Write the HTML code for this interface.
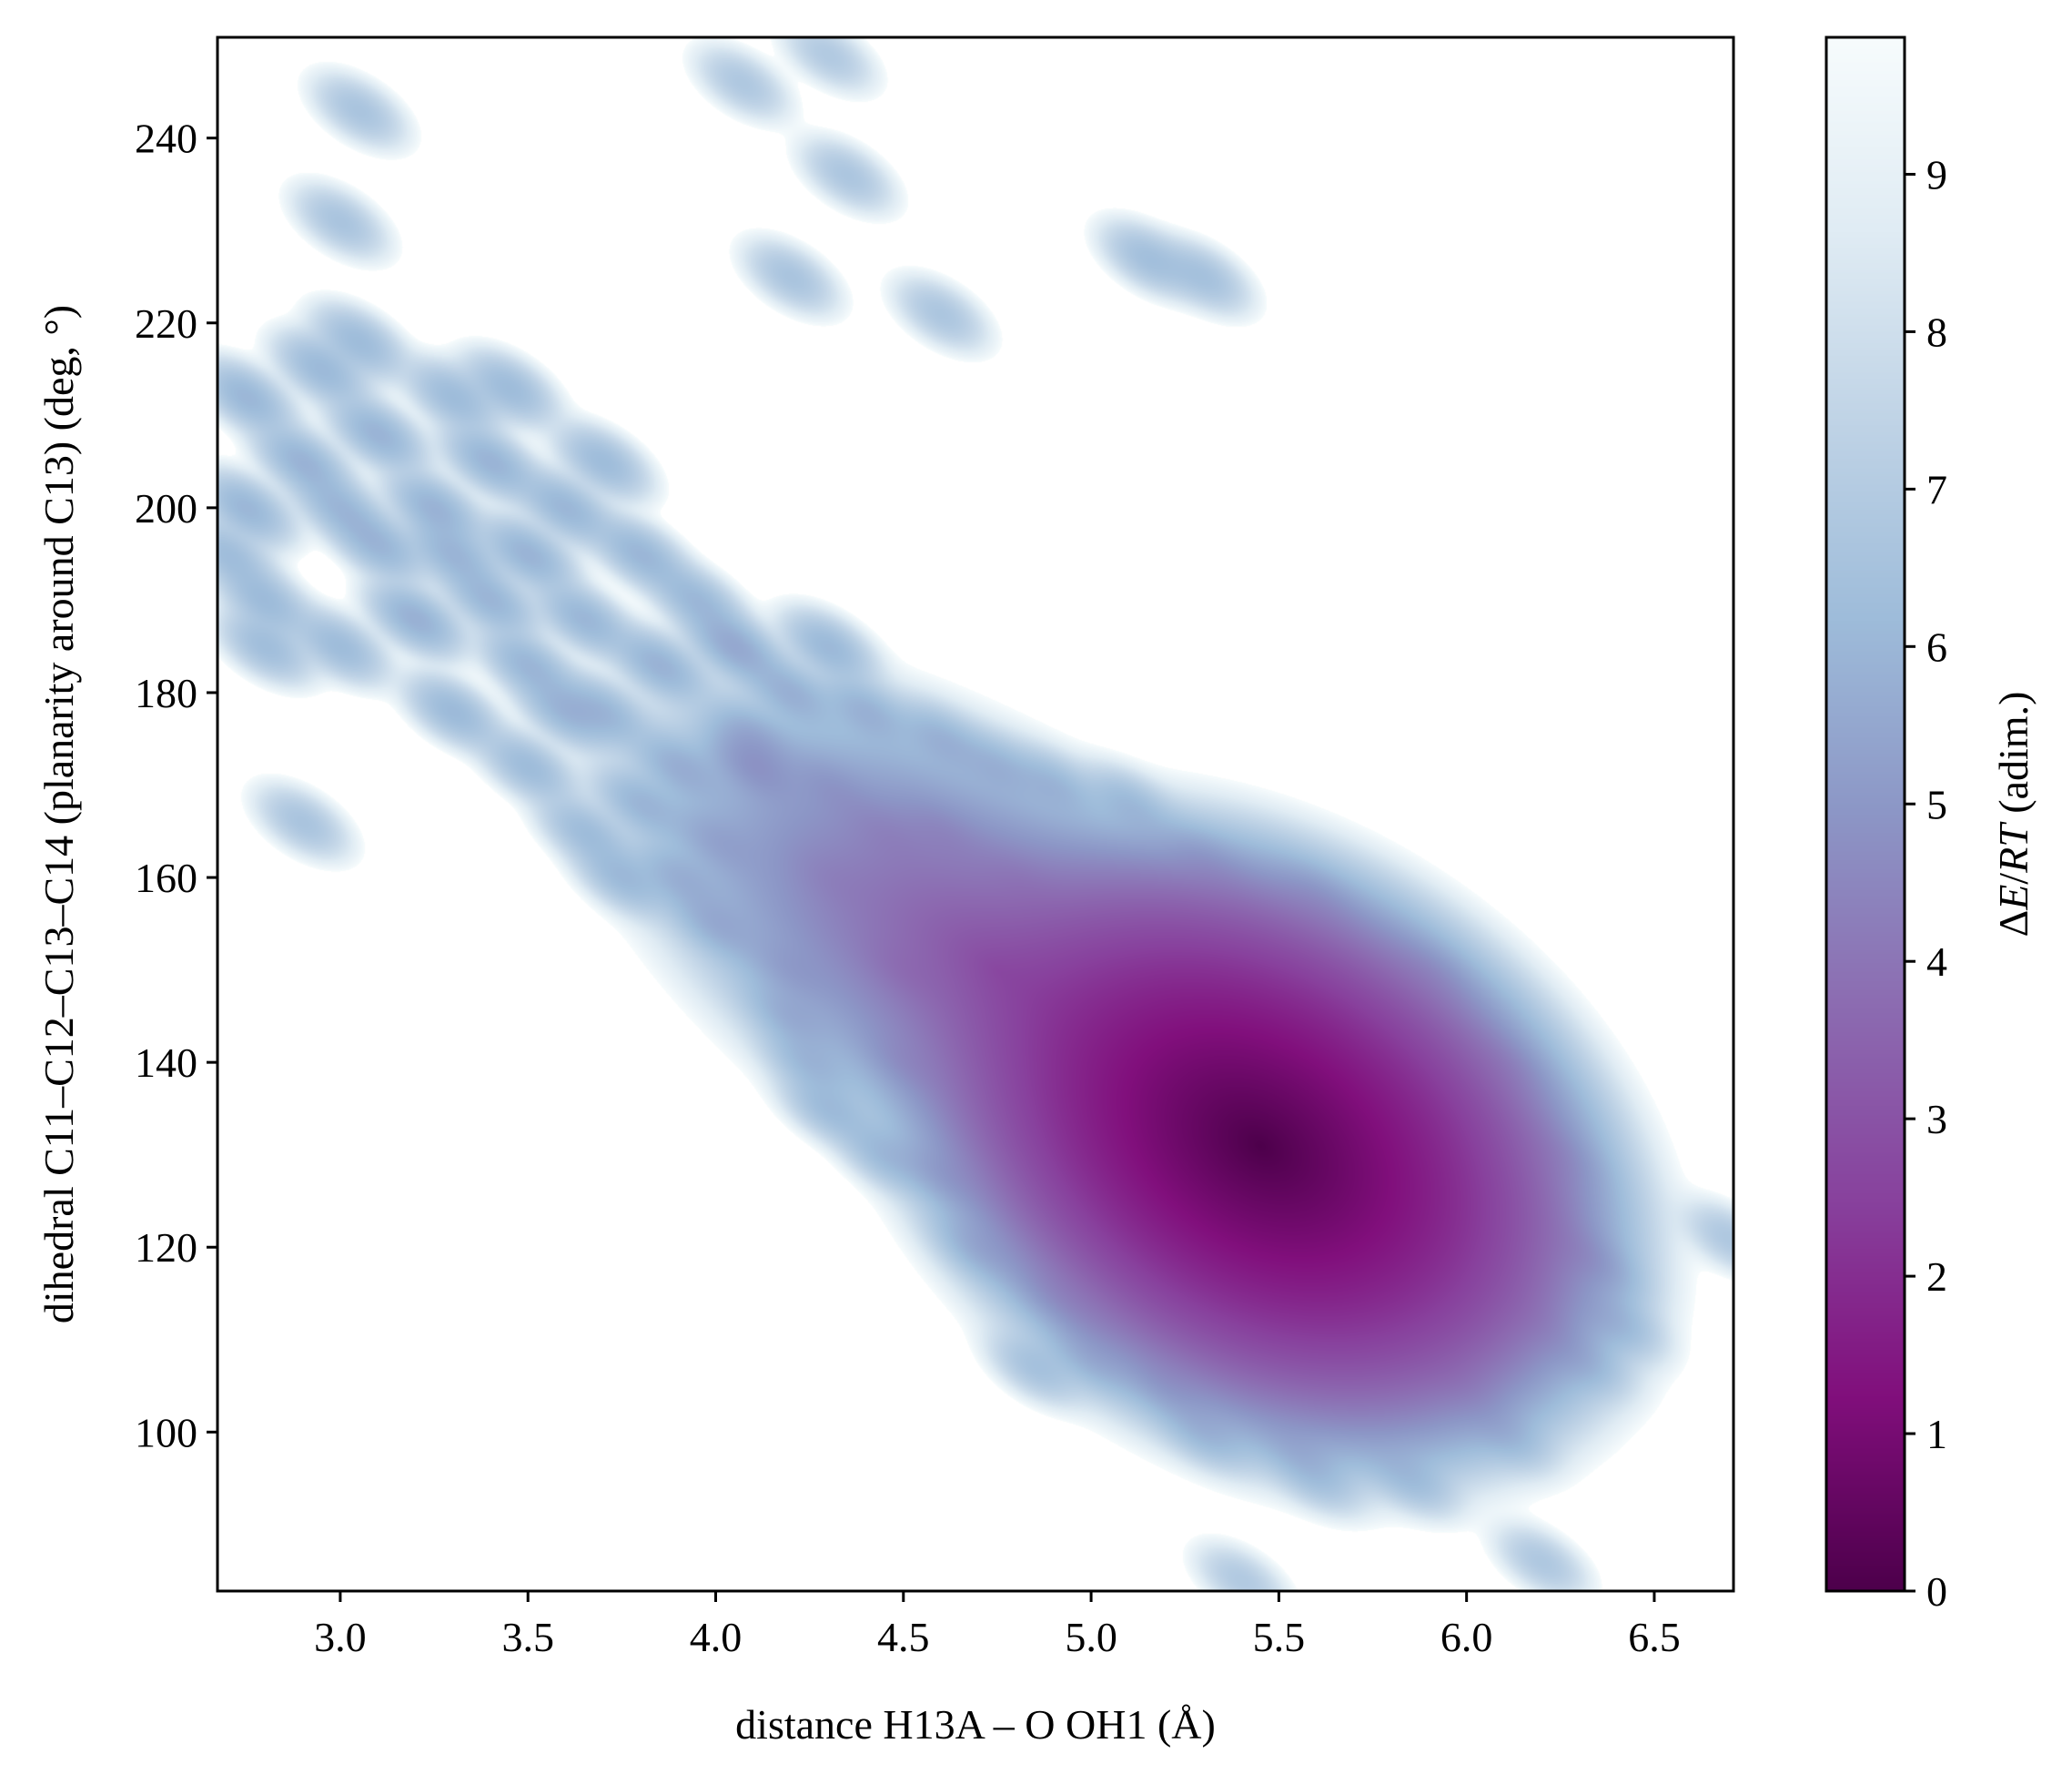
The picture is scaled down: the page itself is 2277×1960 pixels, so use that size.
<!DOCTYPE html>
<html><head><meta charset="utf-8">
<style>
html,body{margin:0;padding:0;background:#fff;}
#wrap{position:relative;width:2277px;height:1960px;overflow:hidden;font-family:"Liberation Serif",serif;color:#000;}
canvas{position:absolute;}
svg{position:absolute;left:0;top:0;}
</style></head>
<body>
<div id="wrap">
<canvas id="heat"></canvas>
<canvas id="cbar"></canvas>
<svg id="ax" width="2277" height="1960"></svg>
</div>
<script>
// ---- data ----
const xTicks = [3.0, 3.5, 4.0, 4.5, 5.0, 5.5, 6.0, 6.5];
const yTicks = [100, 120, 140, 160, 180, 200, 220, 240];
const cTicks = [0,1,2,3,4,5,6,7,8,9];
const basinCenter = [5.45, 131];
const basin2Center = [4.75, 150];
const basin2Energy = 3.0;
const blobX = [3.05,3.0,4.07,4.3,4.35,4.2,4.6,5.15,5.3,2.9,4.85,5.4,6.2,6.7,5.6,
 2.75,2.75,2.8,2.9,2.95,3.05,3.1,3.1,3.2,3.25,3.3,3.4,3.45,3.5,3.5,3.6,3.65,3.7,3.8,3.85,3.9,3.95,4.05,4.1,4.0,4.2,4.3,4.4,4.45,3.65,3.8,
 4.6,4.75,4.9,5.1,5.3,5.6,5.9,6.1,6.25,6.35,6.3,6.1,5.85,5.55,5.3,5.0,4.7,4.45,4.25,4.2,4.3,5.0,6.0,6.2,4.1,4.5,
 2.8,3.0,3.3,3.5,3.75,4.0,4.2,4.3,3.4,3.6,3.9,2.7,3.0,3.3,3.7,4.3,4.6,4.8,
 4.5,4.6,4.9,5.2,6.3,6.4];
const blobY = [243,231,246,249,236,225,221,227,225,166,107,84,86,121,95,
 212,200,190,205,215,218,208,196,188,200,212,205,213,195,183,200,188,178,195,183,172,190,185,175,164,180,170,178,165,165,168,
 175,172,170,168,162,158,150,140,130,118,108,100,95,98,100,108,120,130,140,150,160,112,105,112,172,150,
 185,185,178,172,160,155,145,135,190,178,160,195,200,195,205,185,165,160,
 140,128,115,105,120,112];
const blobE = [6.6,6.6,6.8,6.9,6.7,6.6,6.7,6.4,6.5,6.6,6.6,6.9,6.8,6.8,6.8,
 6.0,6.0,6.2,5.9,6.1,6.2,5.9,6.0,5.8,5.9,6.2,5.9,6.2,5.9,6.0,6.0,6.0,6.1,6.0,5.9,6.1,6.1,5.6,5.9,6.2,6.0,6.1,6.1,6.0,6.3,6.2,
 6.2,6.3,6.3,6.4,6.3,6.4,6.3,6.3,6.4,6.4,6.5,6.5,6.5,6.6,6.4,6.4,6.2,6.3,6.3,6.2,6.3,6.5,6.5,6.5,5.4,5.5,
 6.3,6.2,6.1,6.2,6.2,6.1,6.2,6.3,6.0,6.0,6.2,6.3,6.1,6.0,6.2,6.1,6.0,6.1,
 6.0,6.0,6.1,6.2,6.4,6.5];

// ---- geometry ----
const PL=239, PR=1905, PT=41, PB=1748;
const X0=2.673, X1=6.711, Y0=82.8, Y1=250.9;
const sx = v => PL + (v - X0) / (X1 - X0) * (PR - PL);
const sy = v => PB - (v - Y0) / (Y1 - Y0) * (PB - PT);
const CL=2007, CR=2093, VMAX=9.87;
const cy = v => PB - v / VMAX * (PB - PT);

const stops=[[0,[77,0,75]],[0.125,[129,15,124]],[0.25,[136,65,157]],[0.375,[140,107,177]],[0.5,[140,150,198]],[0.625,[158,188,218]],[0.75,[191,211,230]],[0.875,[224,236,244]],[1,[247,252,253]]];
function cmap(t){t=Math.max(0,Math.min(1,t));for(let i=1;i<stops.length;i++){if(t<=stops[i][0]){const a=stops[i-1],b=stops[i];const f=(t-a[0])/(b[0]-a[0]);return [0,1,2].map(k=>a[1][k]+(b[1][k]-a[1][k])*f);}}return stops[stops.length-1][1];}

// ---- heatmap ----
const W=PR-PL, H=PB-PT;
const hc=document.getElementById('heat'); hc.width=W; hc.height=H; hc.style.left=PL+'px'; hc.style.top=PT+'px';
const ctx=hc.getContext('2d');
const dens=new Float32Array(W*H);
const th=33*Math.PI/180, ct=Math.cos(th), st=Math.sin(th);
const mcx=sx(basinCenter[0])-PL, mcy=sy(basinCenter[1])-PT;
const m2x=sx(basin2Center[0])-PL, m2y=sy(basin2Center[1])-PT;
function fE(r){return 1.2*r+0.05*r*r*r*r;}
for(let j=0;j<H;j++){for(let i=0;i<W;i++){
  let dx=i-mcx, dy=j-mcy; let u=dx*ct+dy*st, v=-dx*st+dy*ct;
  let r=Math.sqrt(u*u/(158*158)+v*v/(110*110));
  let d=Math.exp(-fE(r));
  dx=i-m2x; dy=j-m2y; u=dx*ct+dy*st; v=-dx*st+dy*ct;
  r=Math.sqrt(u*u/(190*190)+v*v/(90*90));
  d+=Math.exp(-(basin2Energy+fE(r)));
  dens[j*W+i]=d;
}}
const su=30, sv=16, R=120;
for(let b=0;b<blobX.length;b++){
  const bx=sx(blobX[b])-PL, by=sy(blobY[b])-PT, w=Math.exp(-blobE[b]);
  for(let j=Math.max(0,Math.floor(by-R));j<Math.min(H,by+R);j++)
   for(let i=Math.max(0,Math.floor(bx-R));i<Math.min(W,bx+R);i++){
    const dx=i-bx, dy=j-by; const u=dx*ct+dy*st, v=-dx*st+dy*ct;
    dens[j*W+i]+=w*Math.exp(-(u*u/(2*su*su)+v*v/(2*sv*sv)));
   }
}
const img=ctx.createImageData(W,H);
for(let p=0;p<W*H;p++){
  const E=-Math.log(dens[p]+1e-30);
  let c=[255,255,255];
  if(E<VMAX){c=cmap(E/VMAX);}
  img.data[p*4]=c[0];img.data[p*4+1]=c[1];img.data[p*4+2]=c[2];img.data[p*4+3]=255;
}
ctx.putImageData(img,0,0);

// ---- colorbar ----
const cc=document.getElementById('cbar'); cc.width=CR-CL; cc.height=PB-PT; cc.style.left=CL+'px'; cc.style.top=PT+'px';
const c2=cc.getContext('2d');
for(let j=0;j<cc.height;j++){const c=cmap(1-j/cc.height);c2.fillStyle=`rgb(${c[0]|0},${c[1]|0},${c[2]|0})`;c2.fillRect(0,j,cc.width,1);}

// ---- axes ----
const svg=document.getElementById('ax'); const NS='http://www.w3.org/2000/svg';
function mk(tag,attrs,parent){const e=document.createElementNS(NS,tag);for(const k in attrs)e.setAttribute(k,attrs[k]);(parent||svg).appendChild(e);return e;}
const frame=mk('rect',{x:PL,y:PT,width:PR-PL,height:PB-PT,fill:'none',stroke:'#000','stroke-width':3});


const cf=mk('rect',{x:CL,y:PT,width:CR-CL,height:PB-PT,fill:'none',stroke:'#000','stroke-width':3});


const FS=46;
xTicks.forEach(v=>{const x=sx(v);
  const l=mk('line',{x1:x,x2:x,y1:PB,y2:PB+12,stroke:'#000','stroke-width':3});
  
  
  const t=mk('text',{x:x,y:PB+66,'font-size':FS,'text-anchor':'middle','font-family':'Liberation Serif, serif'});t.textContent=v.toFixed(1);
  
  
});
yTicks.forEach(v=>{const y=sy(v);
  const l=mk('line',{x1:PL-12,x2:PL,y1:y,y2:y,stroke:'#000','stroke-width':3});
  
  
  const t=mk('text',{x:PL-22,y:y+16,'font-size':FS,'text-anchor':'end','font-family':'Liberation Serif, serif'});t.textContent=v;
  
  
});
cTicks.forEach(v=>{const y=cy(v);
  const l=mk('line',{x1:CR,x2:CR+12,y1:y,y2:y,stroke:'#000','stroke-width':3});
  
  
  const t=mk('text',{x:CR+24,y:y+16,'font-size':FS,'font-family':'Liberation Serif, serif'});t.textContent=v;
  
  
});
const xl=mk('text',{x:(PL+PR)/2,y:1910,'font-size':FS,'text-anchor':'middle','font-family':'Liberation Serif, serif'});
xl.textContent='distance H13A – O OH1 (Å)';


const yl=mk('text',{x:0,y:0,'font-size':FS,'text-anchor':'middle','font-family':'Liberation Serif, serif',transform:`translate(80,${(PT+PB)/2}) rotate(-90)`});
yl.textContent='dihedral C11–C12–C13–C14 (planarity around C13) (deg, °)';


const cl=mk('text',{x:0,y:0,'font-size':FS,'text-anchor':'middle','font-family':'Liberation Serif, serif',transform:`translate(2228,${(PT+PB)/2}) rotate(-90)`});
cl.innerHTML='Δ<tspan font-style="italic">E</tspan>/<tspan font-style="italic">RT</tspan> (adim.)';


</script>
</body></html>
